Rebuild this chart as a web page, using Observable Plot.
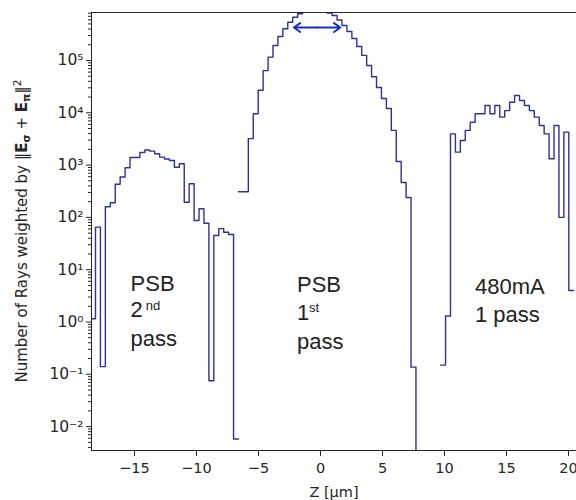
<!DOCTYPE html>
<html><head><meta charset="utf-8">
<script src="https://cdn.jsdelivr.net/npm/d3@7"></script>
<script src="https://cdn.jsdelivr.net/npm/@observablehq/plot@0.6"></script>
<style>body{margin:0;background:#fff;} #chart{width:576px;height:500px;overflow:hidden}</style>
</head><body><div id="chart"></div>
<script>
// Histogram bin grid (µm)
const binOrigin = -18.543;
const binWidth = 0.3976;

// PSB 2nd pass (starts at bin 0)
const psb2Start = 0;
const psb2Values = [1.15, 65, 0.14, 160, 190, 430, 590, 890, 1400, 1400, 1740, 1940, 1850, 1650, 1420, 1310, 1220, 910, 1060, 195, 440, 87, 146, 77, 0.075, 45, 61, 52, 47, 0.0058];

// PSB 1st pass (starts at bin 30)
const psb1Start = 30;
const psb1Values = [310, 310, 3200, 9600, 27000, 64000, 116000, 194000, 288000, 404000, 540000, 673000, 781000, 865000, 944000, 966000, 944000, 884000, 809000, 725000, 595000, 467000, 358000, 264000, 185000, 125000, 80000, 49000, 30500, 18800, 12100, 4600, 1170, 465, 240, 0.137, 0.0005];

// 480mA 1 pass (starts at bin 71)
const ma480Start = 71;
const ma480Values = [0.15, 1.3, 3960, 1770, 2960, 4600, 6600, 9600, 9600, 13800, 9600, 13800, 8270, 11000, 15900, 21400, 17200, 13800, 11000, 8270, 5720, 3960, 1320, 5720, 100, 4260, 4];

// Axes
const xDomain = [-18.468, 20.645];
const yDomain = [0.00349, 827000];
const xTicks = [-15, -10, -5, 0, 5, 10, 15, 20];
const xTickLabels = ["−15", "−10", "−5", "0", "5", "10", "15", "20"];
const yTicks = [1e-2, 1e-1, 1e0, 1e1, 1e2, 1e3, 1e4, 1e5];
const yTickLabels = ["10⁻²", "10⁻¹", "10⁰", "10¹", "10²", "10³", "10⁴", "10⁵"];
const yMinorMultipliers = [2, 3, 4, 5, 6, 7, 8, 9];
const yMinorDecades = [1e-3, 1e-2, 1e-1, 1e0, 1e1, 1e2, 1e3, 1e4, 1e5];

// FWHM arrow
const arrowXStart = -2.15;
const arrowXEnd = 1.6;
const arrowY = 427000;

// Annotations
const noteText = ["PSB", "2", "pass", "PSB", "1", "pass", "480mA", "1 pass"];
const noteX = [-15.32, -15.32, -15.32, -1.895, -1.895, -1.895, 12.46, 12.46];
const noteY = [4.0, 1.22, 0.355, 3.71, 1.07, 0.311, 3.46, 0.99];
const supText = ["nd", "st"];
const supX = [-14.1, -0.93];
const supY = [2.58, 2.36];

const rows = [];
function addSeries(name, start, vals) {
  vals.forEach((v, i) => rows.push({series: name, x: binOrigin + (start + i) * binWidth, y: v}));
  rows.push({series: name, x: binOrigin + (start + vals.length) * binWidth, y: vals[vals.length - 1]});
}
addSeries("PSB 2nd pass", psb2Start, psb2Values);
addSeries("PSB 1st pass", psb1Start, psb1Values);
addSeries("480mA 1 pass", ma480Start, ma480Values);

const yMinor = [];
yMinorDecades.forEach(d => yMinorMultipliers.forEach(m => {
  const t = d * m;
  if (t >= yDomain[0] && t <= yDomain[1]) yMinor.push(t);
}));

const notes = noteText.map((t, i) => ({t, x: noteX[i], y: noteY[i]}));
const sups = supText.map((t, i) => ({t, x: supX[i], y: supY[i]}));
const arrowMid = (arrowXStart + arrowXEnd) / 2;
const arrows = [{x1: arrowMid, x2: arrowXStart, y: arrowY}, {x1: arrowMid, x2: arrowXEnd, y: arrowY}];

const ink = "#262626";
const chart = Plot.plot({
  width: 576, height: 500,
  marginLeft: 91, marginRight: 0, marginTop: 12, marginBottom: 50,
  style: {fontFamily: "'DejaVu Sans'", fontSize: "14px", color: ink, background: "white"},
  x: {domain: xDomain, label: null},
  y: {type: "log", domain: yDomain, label: null},
  marks: [
    Plot.line(rows, {x: "x", y: "y", z: "series", curve: "step-after", stroke: "#30309a", strokeWidth: 1.4, clip: true}),
    Plot.arrow(arrows, {x1: "x1", x2: "x2", y1: "y", y2: "y", stroke: "#1530c8", strokeWidth: 2, headLength: 9, headAngle: 70}),
    Plot.text(notes, {x: "x", y: "y", text: "t", textAnchor: "start", lineAnchor: "bottom", fontFamily: "'Liberation Sans', Arial", fontSize: 22, fill: "#222"}),
    Plot.text(sups, {x: "x", y: "y", text: "t", textAnchor: "start", lineAnchor: "top", fontFamily: "'Liberation Sans', Arial", fontSize: 13, fill: "#222"}),
    Plot.ruleX([xDomain[0]], {stroke: ink, strokeWidth: 1}),
    Plot.ruleY([yDomain[0], yDomain[1]], {stroke: ink, strokeWidth: 1}),
    Plot.axisX({ticks: xTicks, tickFormat: d => xTickLabels[xTicks.indexOf(d)], tickSize: 6, tickPadding: 6, fontSize: 14.5, label: "Z [μm]", labelAnchor: "center", labelOffset: 46, labelArrow: false}),
    Plot.axisY({ticks: yTicks, tickFormat: d => yTickLabels[yTicks.indexOf(d)], tickSize: 5, tickPadding: 3, fontSize: 15.5, label: null}),
    Plot.axisY({ticks: yMinor, tickFormat: () => "", tickSize: 3, label: null})
  ]
});
document.getElementById("chart").appendChild(chart);

// y-axis label with bold E and subscripts
const svg = d3.select(chart);
const lab = svg.append("text")
  .attr("transform", "translate(27,231) rotate(-90)")
  .attr("text-anchor", "middle")
  .attr("fill", ink)
  .style("font-family", "'DejaVu Sans'")
  .style("font-size", "15px");
lab.append("tspan").text("Number of Rays weighted by ‖");
lab.append("tspan").attr("font-weight", "bold").text("E");
lab.append("tspan").attr("font-size", "10.5px").attr("font-weight", "bold").attr("dy", 3).text("σ");
lab.append("tspan").attr("dy", -3).text(" + ");
lab.append("tspan").attr("font-weight", "bold").text("E");
lab.append("tspan").attr("font-size", "10.5px").attr("font-weight", "bold").attr("dy", 3).text("π");
lab.append("tspan").attr("dy", -3).text("‖");
lab.append("tspan").attr("font-size", "10.5px").attr("dy", -6).text("2");
</script>
</body></html>
